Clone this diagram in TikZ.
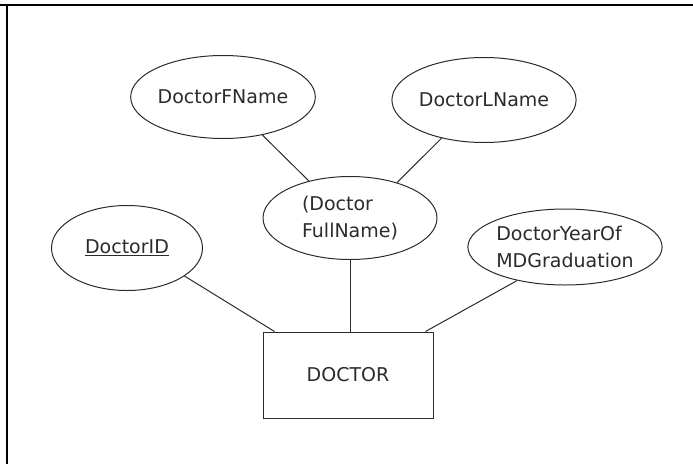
\documentclass[tikz,border=0pt]{standalone}
\usepackage{fontspec}
\setmainfont{DejaVu Sans}
\usetikzlibrary{shapes.geometric}
\definecolor{ink}{HTML}{2B2B2B}
\begin{document}
\begin{tikzpicture}[x=1pt,y=-1pt,
    attr/.style={draw=ink,ellipse,line width=1pt,inner sep=0pt,align=left,
      text=ink,font=\fontsize{19}{27}\selectfont},
    entity/.style={draw=ink,rectangle,line width=1pt,inner sep=0pt,text=ink,
      minimum width=170pt,minimum height=86pt,font=\fontsize{19}{27}\selectfont}]
  \useasboundingbox (0,0) rectangle (693,464);
  \draw[line width=2pt] (0,5) -- (693,5) (7,5) -- (7,464);
  \draw
    (223,97) node[attr,minimum width=165pt,minimum height=83pt] (fname){DoctorFName}
    (484,100) node[attr,minimum width=162pt,minimum height=85pt] (lname){DoctorLName}
    (350,218) node[attr,minimum width=174pt,minimum height=83pt] (full){(Doctor\\FullName)}
    (127,248) node[attr,minimum width=151pt,minimum height=85pt] (id){\underline{DoctorID}}
    (565,247) node[attr,minimum width=165pt,minimum height=76pt] (year){DoctorYearOf\\MDGraduation}
    (348,375) node[entity] (doctor){DOCTOR};
  \begin{scope}[line width=1pt,draw=ink]
    \draw (fname.-44) to (full.138);
    \draw (lname.222) to (full.37);
    \draw (id.-26) to ([xshift=12pt]doctor.north west);
    \draw (full.south) to (full.south |- doctor.north);
    \draw (year.215) to ([xshift=-8pt]doctor.north east);
  \end{scope}
\end{tikzpicture}
\end{document}
